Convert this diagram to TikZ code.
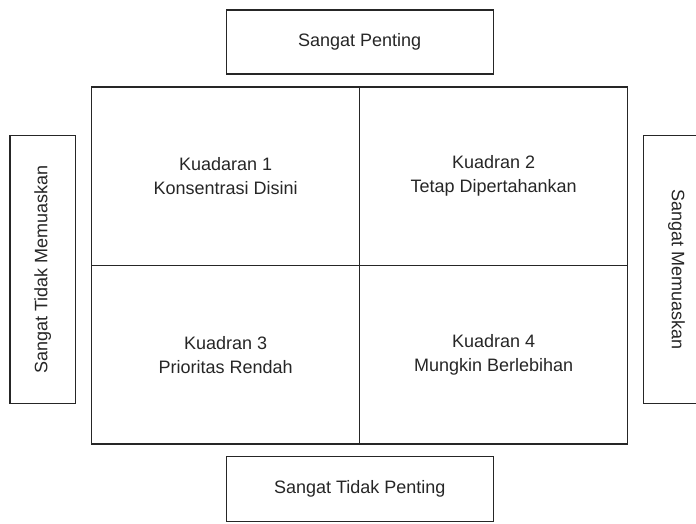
\documentclass[tikz,border=0pt]{standalone}
\usepackage{fontspec}
\setmainfont{Liberation Sans}
\begin{document}
\begin{tikzpicture}[x=1pt,y=-1pt,
  box/.style={draw=black!85, line width=1.2pt, inner sep=0pt, outer sep=0pt,
    font=\fontsize{18}{24}\selectfont, align=center, text=black!85}]
\useasboundingbox (0,0) rectangle (696,523);
\clip (0,0) rectangle (696,523);
\node[box, minimum width=268pt, minimum height=178.3pt] (q1) at (225.7,176.2) {Kuadaran 1\\Konsentrasi Disini};
\node[box, minimum width=268pt, minimum height=178.3pt] (q2) at (493.7,176.2) {Kuadran 2\\Tetap Dipertahankan};
\node[box, minimum width=268pt, minimum height=178.7pt] (q3) at (225.7,354.7) {Kuadran 3\\Prioritas Rendah};
\node[box, minimum width=268pt, minimum height=178.7pt] (q4) at (493.7,354.7) {Kuadran 4\\Mungkin Berlebihan};
\node[box, minimum width=267pt, minimum height=64pt] (top) at (359.6,42) {Sangat Penting};
\node[box, minimum width=267pt, minimum height=65pt] (bot) at (359.8,489.2) {Sangat Tidak Penting};
\node[box, rotate=90, minimum width=268pt, minimum height=65.7pt] (left) at (42.8,269.7) {Sangat Tidak Memuaskan};
\node[box, rotate=-90, minimum width=268pt, minimum height=65.7pt] (right) at (676.5,269.7) {Sangat Memuaskan};
\end{tikzpicture}
\end{document}
